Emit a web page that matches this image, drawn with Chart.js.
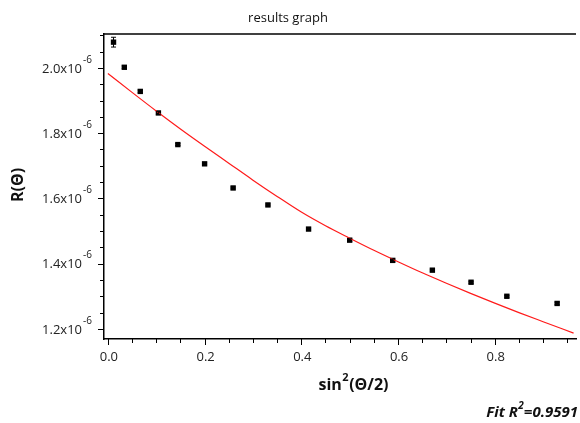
<!DOCTYPE html>
<html>
<head>
<meta charset="utf-8">
<script src="https://cdn.jsdelivr.net/npm/chart.js@4"></script>
<style>
  html, body { margin: 0; padding: 0; background: #fff; }
  #wrap { width: 580px; height: 423px; position: relative; }
</style>
</head>
<body>
<div id="wrap"><canvas id="chart"></canvas></div>
<script>
// measured points, sin^2(theta/2) vs R(theta)
const xData = [0.0117, 0.034, 0.067, 0.1045, 0.1447, 0.200, 0.259, 0.331, 0.415, 0.500, 0.589, 0.671, 0.751, 0.825, 0.929];
const yData = [2.079e-6, 2.002e-6, 1.928e-6, 1.862e-6, 1.765e-6, 1.706e-6, 1.632e-6, 1.580e-6, 1.506e-6, 1.472e-6, 1.410e-6, 1.380e-6, 1.343e-6, 1.300e-6, 1.278e-6];
const yErr = [0.015e-6, 0.004e-6, 0.004e-6, 0.004e-6, 0.003e-6, 0.003e-6, 0.003e-6, 0.003e-6, 0.003e-6, 0.004e-6, 0.004e-6, 0.003e-6, 0.003e-6, 0.003e-6, 0.004e-6];

// fitted curve
const fitX = [0, 0.05, 0.1, 0.15, 0.2, 0.25, 0.3, 0.35, 0.4, 0.45, 0.5, 0.55, 0.6, 0.65, 0.7, 0.75, 0.8, 0.85, 0.9, 0.963];
const fitY = [1.983e-6, 1.925e-6, 1.868e-6, 1.813e-6, 1.760e-6, 1.708e-6, 1.656e-6, 1.606e-6, 1.558e-6, 1.516e-6, 1.478e-6, 1.441e-6, 1.406e-6, 1.372e-6, 1.340e-6, 1.309e-6, 1.279e-6, 1.250e-6, 1.222e-6, 1.187e-6];

const xTicks = [0.0, 0.2, 0.4, 0.6, 0.8];
const xTickLabels = ['0.0', '0.2', '0.4', '0.6', '0.8'];
const yTicks = [1.2e-6, 1.4e-6, 1.6e-6, 1.8e-6, 2.0e-6];
const yTickLabels = ['1.2x10', '1.4x10', '1.6x10', '1.8x10', '2.0x10'];

const FONT = '"Open Sans", "Noto Sans", sans-serif';

const axisPlugin = {
    id: 'axisDecor',
    afterDraw(chart) {
        const ctx = chart.ctx;
        const xs = chart.scales.x;
        const ys = chart.scales.y;
        const area = chart.chartArea;
        ctx.save();

        // error bars
        ctx.strokeStyle = '#000';
        ctx.lineWidth = 1;
        xData.forEach((xv, i) => {
            const px = xs.getPixelForValue(xv);
            const top = ys.getPixelForValue(yData[i] + yErr[i]);
            const bot = ys.getPixelForValue(yData[i] - yErr[i]);
            ctx.beginPath();
            ctx.moveTo(px, top); ctx.lineTo(px, bot);
            ctx.moveTo(px - 2.5, top); ctx.lineTo(px + 2.5, top);
            ctx.moveTo(px - 2.5, bot); ctx.lineTo(px + 2.5, bot);
            ctx.stroke();
        });

        // top frame line
        ctx.lineWidth = 1.5;
        ctx.beginPath();
        ctx.moveTo(area.left, area.top);
        ctx.lineTo(area.right, area.top);
        ctx.stroke();

        // y ticks, major every 0.2, minor every 0.05
        ctx.lineWidth = 1;
        for (let v = 1.2; v <= 2.101; v += 0.05) {
            const py = Math.round(ys.getPixelForValue(v * 1e-6)) + 0.5;
            const major = Math.abs(v * 5 - Math.round(v * 5)) < 1e-6;
            ctx.beginPath();
            ctx.moveTo(area.left, py);
            ctx.lineTo(area.left - (major ? 6 : 4), py);
            ctx.stroke();
        }
        // x ticks
        for (let v = 0; v <= 0.961; v += 0.05) {
            const px = Math.round(xs.getPixelForValue(v)) + 0.5;
            const major = Math.abs(v * 5 - Math.round(v * 5)) < 1e-6;
            ctx.beginPath();
            ctx.moveTo(px, area.bottom);
            ctx.lineTo(px, area.bottom + (major ? 6 : 4));
            ctx.stroke();
        }

        ctx.fillStyle = '#222';
        // y tick labels with superscript exponent
        yTicks.forEach((v, i) => {
            const py = ys.getPixelForValue(v);
            ctx.font = '13px ' + FONT;
            ctx.textAlign = 'right';
            ctx.textBaseline = 'middle';
            ctx.fillText(yTickLabels[i], 82, py + 1);
            ctx.font = '10px ' + FONT;
            ctx.textAlign = 'left';
            ctx.fillText('-6', 83, py - 8);
        });
        // x tick labels
        ctx.font = '13px ' + FONT;
        ctx.textAlign = 'center';
        ctx.textBaseline = 'middle';
        xTicks.forEach((v, i) => {
            ctx.fillText(xTickLabels[i], xs.getPixelForValue(v) + 1, 357);
        });

        // title
        ctx.fillStyle = '#111';
        ctx.font = '13px ' + FONT;
        ctx.fillText('results graph', 288, 18);

        // x axis title
        ctx.font = 'bold 16px ' + FONT;
        const base = 'sin';
        const rest = '(\u0398/2)';
        ctx.textAlign = 'left';
        const wBase = ctx.measureText(base).width;
        ctx.font = 'bold 11px ' + FONT;
        const wSup = ctx.measureText('2').width;
        ctx.font = 'bold 16px ' + FONT;
        const wRest = ctx.measureText(rest).width;
        let x0 = 353 - (wBase + wSup + wRest) / 2;
        ctx.fillText(base, x0, 385);
        ctx.font = 'bold 11px ' + FONT;
        ctx.fillText('2', x0 + wBase + 0.5, 378);
        ctx.font = 'bold 16px ' + FONT;
        ctx.fillText(rest, x0 + wBase + wSup + 1, 385);

        // y axis title
        ctx.save();
        ctx.translate(18, 185);
        ctx.rotate(-Math.PI / 2);
        ctx.textAlign = 'center';
        ctx.font = 'bold 16px ' + FONT;
        ctx.fillText('R(\u0398)', 0, 0);
        ctx.restore();

        // fit annotation
        ctx.font = 'italic bold 15px ' + FONT;
        ctx.textAlign = 'right';
        const tail = '=0.9591';
        const wTail = ctx.measureText(tail).width;
        ctx.fillText(tail, 578, 413);
        ctx.font = 'italic bold 10px ' + FONT;
        const wS = ctx.measureText('2').width;
        ctx.fillText('2', 578 - wTail, 406);
        ctx.font = 'italic bold 15px ' + FONT;
        ctx.fillText('Fit R', 578 - wTail - wS - 0.5, 413);

        ctx.restore();
    }
};

new Chart(document.getElementById('chart'), {
    type: 'scatter',
    data: {
        datasets: [{
            label: 'fit',
            type: 'line',
            data: fitX.map((x, i) => ({ x: x, y: fitY[i] })),
            borderColor: '#ff1a1a',
            borderWidth: 1.2,
            pointRadius: 0,
            cubicInterpolationMode: 'monotone',
            fill: false
        }, {
            label: 'data',
            data: xData.map((x, i) => ({ x: x, y: yData[i] })),
            pointStyle: 'rect',
            pointRadius: 3.8,
            backgroundColor: '#000',
            borderColor: '#000',
            borderWidth: 0
        }]
    },
    options: {
        responsive: true,
        maintainAspectRatio: false,
        animation: false,
        layout: { padding: { left: 104, right: 0, top: 34, bottom: 84 } },
        plugins: {
            legend: { display: false },
            tooltip: { enabled: false },
            title: { display: false }
        },
        scales: {
            x: {
                type: 'linear',
                min: -0.008,
                max: 0.968,
                ticks: { display: false },
                grid: { display: false, drawTicks: false },
                border: { display: true, color: '#000', width: 1.5 }
            },
            y: {
                min: 1.169e-6,
                max: 2.104e-6,
                ticks: { display: false },
                grid: { display: false, drawTicks: false },
                border: { display: true, color: '#000', width: 1.5 }
            }
        }
    },
    plugins: [axisPlugin]
});
</script>
</body>
</html>
